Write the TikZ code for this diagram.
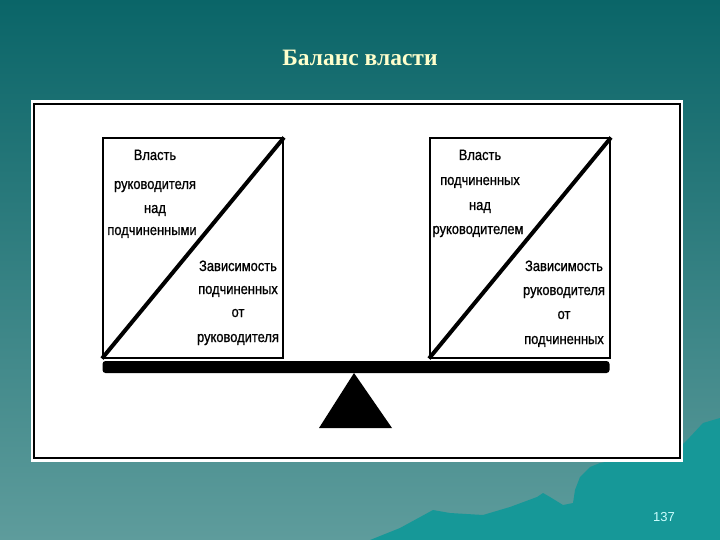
\documentclass[tikz,border=0pt]{standalone}
\usepackage{fontspec}
\setmainfont{Liberation Serif}
\newfontfamily\lblfont[FakeStretch=0.86,FakeBold=0.8]{Liberation Sans}
\newfontfamily\numfont{Liberation Sans}
\definecolor{bgtop}{RGB}{10,101,104}
\definecolor{bgbot}{RGB}{94,156,156}
\definecolor{mount}{RGB}{22,152,152}
\definecolor{titlecol}{RGB}{255,255,204}
\definecolor{numcol}{RGB}{204,255,255}
\tikzset{
  lbl/.style={font=\lblfont\fontsize{15}{16}\selectfont, inner sep=0pt, anchor=base},
  boxline/.style={draw=black, line width=2pt},
  diag/.style={draw=black, line width=4pt},
}
\begin{document}
\begin{tikzpicture}[x=1pt,y=-1pt]
\useasboundingbox (0,0) rectangle (720,540);
% background
\shade[top color=bgtop, bottom color=bgbot] (0,0) rectangle (720,540);
% mountains
\fill[mount] (370,540) -- (400,528) -- (433,510) -- (450,513) -- (483,515) -- (510,507) -- (537,497) -- (543,493) -- (550,497) -- (563,505) -- (573,503) -- (575,490) -- (580,477) -- (590,467) -- (600,463) -- (680,447) -- (690,437) -- (703,423) -- (720,418) -- (720,540) -- cycle;
% panel
\fill[white] (31,100) rectangle (683,462);
\draw[black, line width=2.5pt] (34,104) rectangle (680,458);
% title
\node[font=\bfseries\fontsize{23.5}{26}\selectfont, text=titlecol] (title) at (360,58) {Баланс власти};
% left box
\node[boxline, minimum width=180pt, minimum height=219pt, inner sep=0pt] (lbox) at (193,248) {};
\draw[diag] (lbox.south west) -- (lbox.north east);
% right box
\node[boxline, minimum width=180pt, minimum height=219pt, inner sep=0pt] (rbox) at (520,248) {};
\draw[diag] (rbox.south west) -- (rbox.north east);
% beam
\node[fill=black, rounded corners=3pt, minimum width=507pt, minimum height=12pt, inner sep=0pt] (beam) at (356,367) {};
% fulcrum
\coordinate (apex) at (354,373);
\coordinate (bl) at (319,428);
\coordinate (br) at (392,428);
\fill[black] (apex) -- (bl) -- (br) -- cycle;
% left texts
\node[lbl] (l1) at (155,160) {Власть};
\node[lbl] (l2) at (155,189) {руководителя};
\node[lbl] (l3) at (155,213) {над};
\node[lbl] (l4) at (152,235) {подчиненными};
\node[lbl] (l5) at (238,271) {Зависимость};
\node[lbl] (l6) at (238,294) {подчиненных};
\node[lbl] (l7) at (238,317) {от};
\node[lbl] (l8) at (238,342) {руководителя};
% right texts
\node[lbl] (r1) at (480,160) {Власть};
\node[lbl] (r2) at (480,185) {подчиненных};
\node[lbl] (r3) at (480,210) {над};
\node[lbl] (r4) at (478,234) {руководителем};
\node[lbl] (r5) at (564,271) {Зависимость};
\node[lbl] (r6) at (564,295) {руководителя};
\node[lbl] (r7) at (564,319) {от};
\node[lbl] (r8) at (564,344) {подчиненных};
% page number
\node[font=\numfont\fontsize{13}{14}\selectfont, text=numcol] (pnum) at (664,517) {137};
\end{tikzpicture}
\end{document}
